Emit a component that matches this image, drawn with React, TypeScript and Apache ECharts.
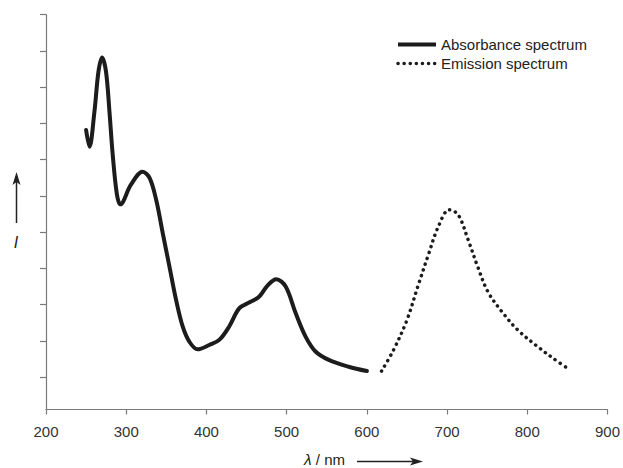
import React, { useEffect, useRef } from "react";
import * as echarts from "echarts";

const absWavelength = [250, 254.2, 260.4, 265.4, 269.9, 274.8, 279.1, 283.2, 288.5, 292.7, 305.9, 320.4, 329.1, 337.4, 345.6, 353.9, 362.2, 370.4, 378.7, 389, 403.6, 416, 428.4, 440.8, 453.2, 465.6, 475.9, 487.1, 498.8, 511.2, 523.6, 536, 552.5, 577.3, 600];
const absIntensity = [7.82, 7.36, 8.33, 9.43, 9.82, 9.43, 8.33, 7.13, 6.03, 5.77, 6.31, 6.67, 6.5, 5.89, 4.97, 4.05, 3.13, 2.4, 1.98, 1.77, 1.89, 2.03, 2.4, 2.9, 3.06, 3.22, 3.52, 3.7, 3.5, 2.77, 2.12, 1.71, 1.48, 1.29, 1.17];

const emWavelength = [618.3, 633.2, 650, 664.2, 676.6, 689, 702.7, 713.9, 726.3, 738.7, 751.1, 769.7, 788.3, 813.2, 831.8, 848];
const emIntensity = [1.17, 1.75, 2.58, 3.55, 4.37, 5.15, 5.62, 5.48, 4.79, 4.02, 3.35, 2.77, 2.3, 1.84, 1.53, 1.28];

const xTicks = [200, 300, 400, 500, 600, 700, 800, 900];
const yTicks = [1, 2, 3, 4, 5, 6, 7, 8, 9, 10, 11];

const seriesNames = ["Absorbance spectrum", "Emission spectrum"];

const FONT = "'Liberation Sans', Arial, Helvetica, sans-serif";
const INK = "#1c1c1c";
const DOTS = [0.1, 6];

export default function App() {
  const ref = useRef<HTMLDivElement>(null);
  useEffect(() => {
    document.body.style.margin = "0";
    if (!ref.current) return;
    const chart = echarts.init(ref.current, null, { renderer: "svg" });
    const absData = absWavelength.map((w, i) => [w, absIntensity[i]]);
    const emData = emWavelength.map((w, i) => [w, emIntensity[i]]);
    chart.setOption({
      animation: false,
      backgroundColor: "#ffffff",
      grid: { left: 46, right: 13, top: 14.7, bottom: 58.5, containLabel: false },
      legend: {
        orient: "vertical",
        left: 391,
        top: 32,
        itemWidth: 38,
        itemHeight: 14,
        itemGap: 4,
        textStyle: { fontFamily: FONT, fontSize: 15, color: "#222" },
        data: [
          {
            name: seriesNames[0],
            itemStyle: { opacity: 0 },
            lineStyle: { color: INK, width: 4, cap: "butt" },
          },
          {
            name: seriesNames[1],
            itemStyle: { opacity: 0 },
            lineStyle: { color: INK, width: 3.5, type: DOTS, cap: "round" },
          },
        ],
      },
      xAxis: {
        type: "value",
        min: xTicks[0],
        max: xTicks[xTicks.length - 1],
        interval: 100,
        axisLine: { lineStyle: { color: "#7a7a7a", width: 1.2 } },
        axisTick: { show: true, inside: false, length: 5, lineStyle: { color: "#7a7a7a", width: 1.2 } },
        axisLabel: { color: "#333", fontFamily: FONT, fontSize: 15, margin: 14 },
        splitLine: { show: false },
      },
      yAxis: {
        type: "value",
        min: 0.11,
        max: 11,
        axisLine: { show: true, lineStyle: { color: "#7a7a7a", width: 1.2 } },
        axisTick: { show: true, inside: false, length: 6, customValues: yTicks, lineStyle: { color: "#7a7a7a", width: 1.2 } },
        axisLabel: { show: false },
        splitLine: { show: false },
      },
      series: [
        {
          name: seriesNames[0],
          type: "line",
          data: absData,
          smooth: 0.35,
          showSymbol: false,
          symbol: "none",
          lineStyle: { color: INK, width: 4, cap: "round", join: "round" },
          itemStyle: { color: INK },
        },
        {
          name: seriesNames[1],
          type: "line",
          data: emData,
          smooth: 0.35,
          showSymbol: false,
          symbol: "none",
          lineStyle: { color: INK, width: 3.5, type: DOTS, cap: "round" },
          itemStyle: { color: INK },
        },
      ],
      graphic: [
        {
          type: "text",
          x: 304,
          y: 459,
          style: {
            text: "{i|λ}{n| / nm}",
            verticalAlign: "middle",
            rich: {
              i: { fontFamily: FONT, fontSize: 15.5, fontStyle: "italic", fill: "#222", lineHeight: 15 },
              n: { fontFamily: FONT, fontSize: 15, fill: "#222", lineHeight: 15 },
            },
          },
        },
        {
          type: "line",
          shape: { x1: 357, y1: 461.5, x2: 416, y2: 461.5 },
          style: { stroke: "#222", lineWidth: 1.5 },
        },
        {
          type: "polygon",
          shape: { points: [[423, 461.5], [410, 457.5], [413, 461.5], [410, 465.5]] },
          style: { fill: "#222" },
        },
        {
          type: "line",
          shape: { x1: 16.5, y1: 223, x2: 16.5, y2: 180 },
          style: { stroke: "#222", lineWidth: 1.5 },
        },
        {
          type: "polygon",
          shape: { points: [[16.5, 172], [12.5, 185], [16.5, 182], [20.5, 185]] },
          style: { fill: "#222" },
        },
        {
          type: "text",
          x: 16,
          y: 242,
          style: {
            text: "I",
            fontFamily: FONT,
            fontSize: 16,
            fontStyle: "italic",
            fill: "#222",
            align: "center",
            verticalAlign: "middle",
          },
        },
      ],
    });
    return () => chart.dispose();
  }, []);
  return <div ref={ref} style={{ width: 623, height: 468 }} />;
}
